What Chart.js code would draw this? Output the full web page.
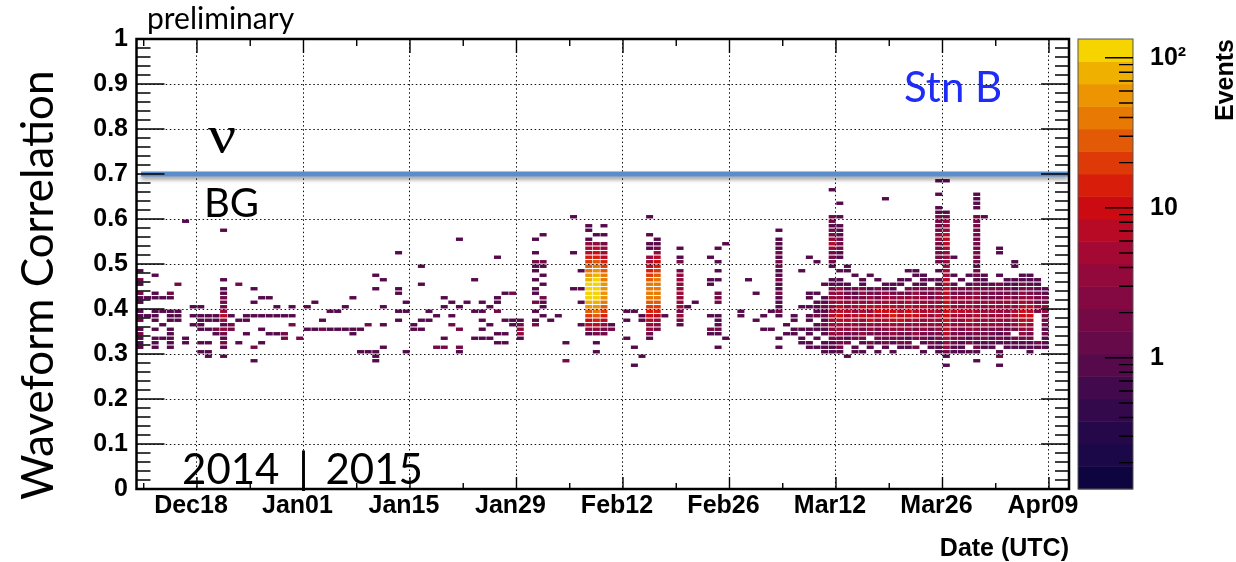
<!DOCTYPE html>
<html>
<head>
<meta charset="utf-8">
<title>Waveform correlation vs date, station B</title>
<script src="https://cdn.jsdelivr.net/npm/chart.js@4.4.1/dist/chart.umd.min.js"></script>
<style>
  html, body { margin: 0; padding: 0; background: #fff; }
</style>
</head>
<body>
<canvas id="corr" width="1236" height="562"></canvas>
<script>
const EPOCH = Date.UTC(2014, 11, 18);   // day 0 = Dec18
const DAY = 86400000;

// frame range in days from Dec18
const xMin = -7.95;
const xMax = 114.63;

const xTicks = [0, 14, 28, 42, 56, 70, 84, 98, 112];
const xTickLabels = ['Dec18', 'Jan01', 'Jan15', 'Jan29', 'Feb12', 'Feb26', 'Mar12', 'Mar26', 'Apr09'];
const zTicks = [1, 10, 100];
const zTickLabels = ['1', '10', '10\u00b2'];
const zMin = 0.1334;
const zMax = 133.4;
const bgCut = 0.7;

// [day of month, 'bin bin*count ...'], bin = correlation in hundredths (lower edge), count defaults to 1
const dec2014 = [
  [10, '48 46*2 45 43*2 42 41 39 38 37*2 35 34*2 33 32 31'],
  [11, '42 38'],
  [12, '47 43 42 39 38 37 35 33 32 31'],
  [13, '42 39 36 33'],
  [14, '43*2 42 39 38 37 35 34 33 32 31'],
  [15, '45*2 39 38 37'],
  [16, '59 33 32'],
  [17, '40 38 36'],
  [18, '40 38 37 36 35 32 30'],
  [19, '38 37 35 32 30 29'],
  [20, '38 37 35*2 34'],
  [21, '57 46 44 43 42*2 41*2 40*2 39*3 38*7 37*3 36 35*3 34*2 33 32*2 31 29'],
  [22, '38 36*2 35*2'],
  [23, '45*2 37 32'],
  [24, '38 37 34'],
  [25, '44 41 38 31*2 28'],
  [26, '42 38 35 32'],
  [27, '42 38 34'],
  [28, '40 38 34'],
  [29, '38 34*2 33*2'],
  [30, '40 38 36*2'],
  [31, '33*2']
];

const jan2015 = [
  [1, '40 35'],
  [2, '41 35'],
  [3, '37 35*2'],
  [4, '39 35'],
  [5, '39 35'],
  [6, '40 35'],
  [7, '42 35 34'],
  [8, '35 30'],
  [9, '36*2 30'],
  [10, '47 44 30 29 28'],
  [11, '46 40 36 31'],
  [13, '52 44 43 39 37'],
  [14, '41 39 30'],
  [15, '36 35'],
  [16, '49 45 37 35'],
  [17, '39 37'],
  [18, '38 31*2'],
  [19, '42 40 33 31*2'],
  [20, '41 38 36*2'],
  [21, '55 40 35*2 31*2 30'],
  [22, '41'],
  [23, '46 39 33'],
  [24, '41 39 37 35 33'],
  [25, '40 36 33'],
  [26, '51 42 41 39*2 34 32'],
  [27, '43 37 34 32'],
  [28, '43*2 37 36'],
  [29, '37 36*2 35*3 34*3 33'],
  [31, '55 52 50*2 49 48 46 44 43 41*2 39 37 36*2']
];

const feb2015 = [
  [1, '56 50*2 49 47 45 42*2 41 40 38'],
  [2, '37'],
  [3, '38'],
  [4, '32 28*2'],
  [5, '60 52 44'],
  [6, '48 44 41 36'],
  [7, '58 57 55 54*3 53*5 52*8 51*12 50*20 49*30 48*45 47*60 46*80 45*100 44*110 43*110 42*95 41*75 40*50 39*30 38*20 37*10 36*6 35*3 34'],
  [8, '56 54*4 53*6 52*10 51*15 50*25 49*40 48*55 47*75 46*95 45*110 44*120 43*120 42*110 41*90 40*60 39*40 38*25 37*15 36*8 35*4 34*2 32 30'],
  [9, '58 56 54*2 53*3 52*5 51*8 50*12 49*18 48*25 47*35 46*45 45*55 44*60 43*60 42*50 41*40 40*28 39*18 38*12 37*7 36*4 35*2 34*2'],
  [10, '36 35*2'],
  [12, '39 37 33'],
  [13, '39 31 27'],
  [14, '38 37 29'],
  [15, '60 56 54 53 51*3 50*5 49*8 48*12 47*20 46*28 45*35 44*40 43*40 42*35 41*30 40*22 39*15 38*10 37*6 36*4 35*3 34*2 33'],
  [16, '55 54 53*2 52*4 51*6 50*9 49*14 48*20 47*28 46*35 45*40 44*45 43*42 42*35 41*28 40*20 39*12 38*8 37*5 36*3 35*2'],
  [17, '38'],
  [19, '53 51 50*2 48*2 47*3 46*3 45*3 44*4 43*5 42*4 41*3 40*3 39*2 38*3 37*2 36'],
  [20, '40'],
  [21, '41'],
  [23, '51 46 45 38 35*2 34'],
  [24, '53 50 48 46 43*2 42*2 41*2 38 37 36 35*2 34 31'],
  [25, '54 33'],
  [27, '39 38'],
  [28, '46']
];

const mar2015 = [
  [1, '43 37'],
  [2, '38 35'],
  [3, '39 35'],
  [4, '57 55 54 53 52*2 51 50*2 49*2 48 47 46*2 45 44 43*2 42 41 40 39*2 38 33 31'],
  [5, '36 34'],
  [6, '38 37 35 34'],
  [7, '48 40 35 33 32'],
  [8, '51 43 42 40 38 37 35 34 32 31'],
  [9, '50 43 41 40 39 38*2 36 35 33 31'],
  [10, '45 42 41 40*2 39 38*2 37 36*2 35 34 32 31 30'],
  [11, '66 60*2 59*2 58 57*2 56*2 55*4 54*6 53*4 52*2 51*2 50*2 49 46 45 44*2 43*3 42*3 41*4 40*4 39*5 38*6 37*5 36*4 35*3 34*3 33*2 32 31 30'],
  [12, '63 60 58 57 56 55*2 54*2 53*2 52 51 48 46 45 44*3 43*3 42*4 41*5 40*6 39*8 38*9 37*7 36*5 35*4 34*3 33*2 32*2 31*2 30'],
  [13, '49 48 45 44 43*2 42*2 41*3 40*4 39*6 38*5 37*7 36*4 35*3 34*2 33 32*2 29'],
  [14, '47 44*2 43 42*2 41*4 40*5 39*4 38*8 37*5 36*3 35*3 34*2 33*2 31 30'],
  [15, '46 45 44*2 43*3 42*2 41*3 40*7 39*5 38*10 37*4 36*4 35*2 34*3 33*2 32 30'],
  [16, '47 44 43*2 42*3 41*4 40*6 39*4 38*6 37*9 36*3 35*3 34*2 32*2 31'],
  [17, '46 44*2 43*2 42*2 41*4 40*6 39*10 38*6 37*5 36*4 35*2 34*2 33*2 32 30'],
  [18, '64 45 44 43*3 42*3 41*5 40*8 39*11 38*7 37*6 36*4 35*3 34*2 33*2 32*2 31'],
  [19, '45 44 43*2 42*3 41*4 40*6 39*9 38*12 37*6 36*5 35*3 34*3 33*2 32 30'],
  [20, '46 45 43*2 42*4 41*4 40*5 39*8 38*6 37*10 36*4 35*3 34*2 33*2 32*2 31'],
  [21, '48 46 44*2 43*2 42*3 41*5 40*7 39*9 38*9 37*5 36*4 35*3 34*2 33 32*2 31'],
  [22, '48 47 45 44*2 43*3 42*3 41*4 40*5 39*6 38*9 37*5 36*4 35*2 34*3 33*2 31*2'],
  [23, '47 46 45 44*2 43*2 42*3 41*4 40*6 39*5 38*7 37*4 36*3 35*3 34*2 33*2 32 30'],
  [24, '46 44*2 43*2 42*2 41*3 40*4 39*6 38*4 37*5 36*3 35*2 34*2 33 32*2 31'],
  [25, '68 65 62 61 60*2 59*2 58*2 57*2 56*3 55*3 54*2 53*2 52*2 51*2 50*2 48 46 45 44*2 43*3 42*3 41*4 40*5 39*5 38*6 37*4 36*3 35*3 34*2 33*2 32 31 30'],
  [26, '68 61 60*2 59*3 58*3 57*4 56*6 55*7 54*8 53*5 52*4 51*4 50*3 49*4 48*5 47*5 46*6 45*6 44*7 43*7 42*8 41*9 40*10 39*11 38*10 37*9 36*8 35*7 34*6 33*5 32*4 31*3 30*2 29 27'],
  [27, '51 47 45 44*2 43*2 42*3 41*3 40*4 39*6 38*5 37*4 36*4 35*3 34*2 33*2 32*2 31 30'],
  [28, '46 44*2 43*2 42*3 41*4 40*4 39*7 38*5 37*4 36*3 35*2 34*2 33*2 32 31 30'],
  [29, '47 45 44*2 43*2 42*3 41*3 40*5 39*6 38*4 37*6 36*3 35*3 34*2 33 32*2 30'],
  [30, '65 64 63 62 60*2 59*2 58*2 57*2 56*2 55*2 54*2 53*2 52*2 51*2 50*2 49 48*2 47*2 46 45*2 44*2 43*3 42*3 41*4 40*4 39*5 38*6 37*4 36*3 35*3 34*2 33*2 32 31*2 30 28'],
  [31, '60 47 46 45 44*2 43*2 42*2 41*3 40*4 39*4 38*5 37*4 36*3 35*2 34*2 33*2 32 31']
];

const apr2015 = [
  [1, '45 44*2 43*2 42*2 41*3 40*4 39*5 38*4 37*3 36*3 35*2 34*2 33 32 31'],
  [2, '53 52 47 45*2 44*2 43*2 42*2 41*3 40*3 39*4 38*5 37*3 36*3 35*2 34 33*2 32 30 29*2 27'],
  [3, '46 45 44*2 43*2 42*3 41*3 40*4 39*3 38*4 37*3 36*2 35*2 34*2 33 32 31'],
  [4, '50 49 46 45 44 43*2 42*2 41*3 40*4 39*5 38*6 37*4 36*3 35*2 33*2 32 31'],
  [5, '47 46 45*2 44*2 43*3 42*3 41*5 40*7 39*9 38*10 37*8 36*6 35*4 34*3 33*2 32 31'],
  [6, '47 46 45 44*2 43*2 42*3 41*4 40*7 39*8 38*9 37*6 36*4 35*3 34*2 33*2 32 31 30'],
  [7, '46 45 44 43*2 42*2 41*2 40*3 39*2 32*2 31'],
  [8, '44 43 42*2 41*2 40*3 39*3 38*2 37*2 36*2 35 34*2 33 32 31']
];

// 20 contour colours, lowest to highest
const palette = [
  '#0d0440', '#1a0848', '#25084a', '#33094b', '#420a4c',
  '#560a4c', '#660a4a', '#750946', '#840942', '#94093b',
  '#a40933', '#b80a25', '#cc0a12', '#d81e0a', '#dd3a07',
  '#e25a05', '#e87a04', '#ec9402', '#f0b000', '#f5d400'
];

function collect(year, month, days) {
  const out = [];
  days.forEach(([day, bins]) => {
    const x = (Date.UTC(year, month, day) - EPOCH) / DAY;
    bins.trim().split(/\s+/).forEach(tok => {
      const [b, n] = tok.split('*');
      out.push({ x: x, y: +b / 100, v: n ? +n : 1 });
    });
  });
  return out;
}

const cells = [].concat(
  collect(2014, 11, dec2014),
  collect(2015, 0, jan2015),
  collect(2015, 1, feb2015),
  collect(2015, 2, mar2015),
  collect(2015, 3, apr2015)
);

const rootFont = '"Liberation Sans", Arial, Helvetica, sans-serif';

// bins are painted under the grid, like ROOT's COLZ
const colz = {
  id: 'colz',
  beforeDraw(chart) {
    const { ctx, chartArea: a, scales: { x, y, z } } = chart;
    const bandH = (z.bottom - z.top) / palette.length;
    ctx.save();
    ctx.beginPath();
    ctx.rect(a.left, a.top, a.right - a.left, a.bottom - a.top);
    ctx.clip();
    chart.data.datasets[0].data.forEach(c => {
      let k = Math.floor((z.bottom - z.getPixelForValue(c.v)) / bandH);
      k = Math.max(0, Math.min(palette.length - 1, k));
      const x0 = x.getPixelForValue(c.x);
      const x1 = x.getPixelForValue(c.x + 1);
      const y0 = y.getPixelForValue(c.y + 0.01);
      const y1 = y.getPixelForValue(c.y);
      ctx.fillStyle = palette[k];
      ctx.fillRect(x0 + 0.3, y0 + 0.55, x1 - x0 - 0.6, y1 - y0 - 1.1);
    });
    ctx.restore();
  }
};

// soft shadow under the cut line
const cutShadow = {
  id: 'cutShadow',
  beforeDatasetDraw(chart, args) {
    if (args.index !== 1) return;
    const ctx = chart.ctx;
    ctx.save();
    ctx.shadowColor = 'rgba(0,0,0,0.4)';
    ctx.shadowBlur = 4;
    ctx.shadowOffsetY = 3;
  },
  afterDatasetDraw(chart, args) {
    if (args.index === 1) chart.ctx.restore();
  }
};

// frame, inward ticks, palette axis and the text labels
const rootFrame = {
  id: 'rootFrame',
  afterDraw(chart) {
    const { ctx, chartArea: a, scales: { x, y, z } } = chart;
    ctx.save();
    ctx.strokeStyle = '#000';
    ctx.lineWidth = 1.4;
    ctx.beginPath();
    for (let k = 0; k <= 50; k++) {
      const py = y.getPixelForValue(k / 50);
      const len = k % 5 === 0 ? 28 : 14;
      ctx.moveTo(a.left, py); ctx.lineTo(a.left + len, py);
      ctx.moveTo(a.right, py); ctx.lineTo(a.right - len, py);
    }
    for (let d = -7; d <= 112; d += 7) {
      const px = x.getPixelForValue(d);
      const major = d % 14 === 0;
      ctx.moveTo(px, a.bottom); ctx.lineTo(px, a.bottom - (major ? 12 : 6));
      ctx.moveTo(px, a.top); ctx.lineTo(px, a.top + (major ? 14 : 7));
    }
    ctx.stroke();
    ctx.lineWidth = 2.5;
    ctx.strokeRect(a.left, a.top, a.right - a.left, a.bottom - a.top);

    // palette
    const cbL = z.left + 9, cbR = z.left + 64;
    const bandH = (z.bottom - z.top) / palette.length;
    palette.forEach((c, i) => {
      ctx.fillStyle = c;
      ctx.fillRect(cbL, z.bottom - (i + 1) * bandH, cbR - cbL, bandH + 0.4);
    });
    ctx.lineWidth = 1;
    ctx.strokeStyle = '#555';
    ctx.strokeRect(cbL, z.top, cbR - cbL, z.bottom - z.top);
    ctx.strokeStyle = '#000';
    ctx.lineWidth = 1.4;
    ctx.beginPath();
    [0.1, 1, 10, 100].forEach(dec => {
      for (let m = 1; m <= 9; m++) {
        const v = m * dec;
        if (v < zMin || v > zMax) continue;
        const py = z.getPixelForValue(v);
        ctx.moveTo(cbR, py); ctx.lineTo(cbR - (m === 1 ? 28 : 14), py);
      }
    });
    ctx.stroke();

    ctx.fillStyle = '#000';
    ctx.font = 'bold 25px ' + rootFont;
    ctx.save();
    ctx.translate(1233, z.top);
    ctx.rotate(-Math.PI / 2);
    ctx.textAlign = 'right';
    ctx.fillText('Events', 0, 0);
    ctx.restore();

    ctx.font = '44px Lato';
    ctx.save();
    ctx.translate(53, 500);
    ctx.rotate(-Math.PI / 2);
    ctx.textAlign = 'left';
    ctx.fillText('Waveform Correlation', 0, 0);
    ctx.restore();

    ctx.font = '30px Lato';
    ctx.fillText('preliminary', 147, 29);

    const cutY = y.getPixelForValue(bgCut);
    ctx.save();
    ctx.translate(208, cutY - 22);
    ctx.scale(1.2, 1);
    ctx.font = '52px "Liberation Serif", serif';
    ctx.fillText('\u03bd', 0, 0);
    ctx.restore();
    ctx.font = '40px Lato';
    ctx.fillText('BG', 204, cutY + 43);

    ctx.fillStyle = '#1e2cf5';
    ctx.font = '42px Lato';
    ctx.fillText('Stn B', 904, 102);

    // year boundary sits on Jan01
    const jan1 = x.getPixelForValue(14);
    ctx.fillStyle = '#000';
    ctx.font = '42px Lato';
    ctx.textAlign = 'right';
    ctx.fillText('2014', jan1 - 24, 484);
    ctx.textAlign = 'center';
    ctx.fillText('|', jan1, 484);
    ctx.textAlign = 'left';
    ctx.fillText('2015', jan1 + 22, 484);
    ctx.restore();
  }
};

// fixed axis boxes; labels may hang over the frame without shrinking it
function fixBox(w, h) {
  return s => {
    if (w !== null) s.width = w;
    if (h !== null) s.height = h;
    s.paddingTop = 0; s.paddingBottom = 0;
    s.paddingLeft = 0; s.paddingRight = 0;
  };
}

new Chart(document.getElementById('corr'), {
  type: 'scatter',
  data: {
    datasets: [
      {
        label: 'Events',
        data: cells,
        pointRadius: 0,
        pointHoverRadius: 0
      },
      {
        label: 'cut',
        data: [{ x: xMin + 0.6, y: bgCut }, { x: xMax - 0.1, y: bgCut }],
        showLine: true,
        borderColor: '#5b8dcb',
        borderWidth: 5,
        pointRadius: 0
      }
    ]
  },
  options: {
    responsive: false,
    animation: false,
    events: [],
    layout: { padding: { top: 39, left: 0, right: 0, bottom: 0 } },
    plugins: {
      legend: { display: false },
      tooltip: { enabled: false }
    },
    scales: {
      x: {
        type: 'linear',
        position: 'bottom',
        min: xMin,
        max: xMax,
        afterFit: fixBox(null, 73),
        afterBuildTicks: s => { s.ticks = xTicks.map(v => ({ value: v })); },
        ticks: {
          autoSkip: false,
          maxRotation: 0,
          padding: 5,
          labelOffset: -6,
          color: '#000',
          font: { family: rootFont, size: 25, weight: 'bold', lineHeight: 1 },
          callback: v => xTickLabels[xTicks.indexOf(v)]
        },
        grid: { color: '#111', lineWidth: 1, drawTicks: false },
        border: { display: false, dash: [1.5, 2.6] },
        title: {
          display: true,
          text: 'Date (UTC)',
          align: 'end',
          color: '#000',
          padding: 0,
          font: { family: rootFont, size: 25, weight: 'bold', lineHeight: 1 }
        }
      },
      y: {
        type: 'linear',
        position: 'left',
        min: 0,
        max: 1,
        afterFit: fixBox(136.5, null),
        ticks: {
          stepSize: 0.1,
          autoSkip: false,
          padding: 8.5,
          color: '#000',
          font: { family: rootFont, size: 25, weight: 'bold', lineHeight: 1 },
          callback: v => String(+v.toFixed(1))
        },
        grid: { color: '#111', lineWidth: 1, drawTicks: false },
        border: { display: false, dash: [1.5, 2.6] }
      },
      z: {
        type: 'logarithmic',
        position: 'right',
        min: zMin,
        max: zMax,
        afterFit: fixBox(167, null),
        afterBuildTicks: s => { s.ticks = zTicks.map(v => ({ value: v })); },
        ticks: {
          autoSkip: false,
          padding: 81,
          color: '#000',
          font: { family: rootFont, size: 25, weight: 'bold', lineHeight: 1 },
          callback: v => zTickLabels[zTicks.indexOf(v)]
        },
        grid: { display: false, drawTicks: false },
        border: { display: false }
      }
    }
  },
  plugins: [colz, cutShadow, rootFrame]
});
</script>
</body>
</html>
